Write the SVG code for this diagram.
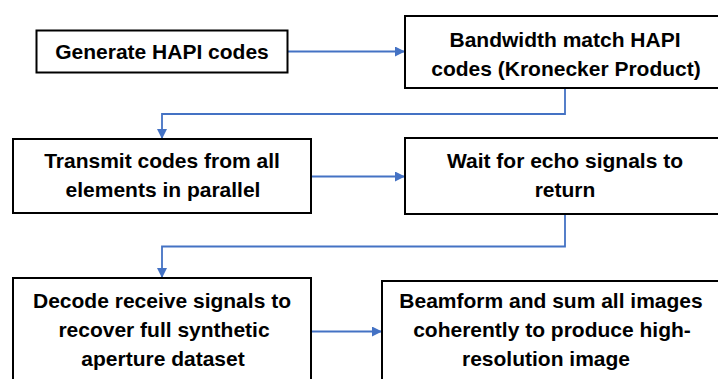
<svg xmlns="http://www.w3.org/2000/svg" width="718" height="379" viewBox="0 0 718 379">
  <style>
    .box { fill: #ffffff; stroke: #000000; stroke-width: 2; }
    .lbl { font-family: "Liberation Sans", Arial, sans-serif; font-weight: bold; font-size: 21px; fill: #000000; text-anchor: middle; }
    .conn { fill: none; stroke: #4472C4; stroke-width: 1.8; marker-end: url(#arrow); }
  </style>
  <defs>
    <marker id="arrow" markerUnits="userSpaceOnUse" markerWidth="11" markerHeight="10" refX="10" refY="5" orient="auto">
      <path d="M0,0 L10,5 L0,10 Z" fill="#4472C4"/>
    </marker>
  </defs>
  <rect width="718" height="379" fill="#ffffff"/>

  <g id="connectors">
    <path class="conn" d="M287,51.5 H405"/>
    <path class="conn" d="M565,88 V114 H162 V139"/>
    <path class="conn" d="M311,176.5 H405"/>
    <path class="conn" d="M565,214 V246.5 H162 V278"/>
    <path class="conn" d="M311,331.5 H382"/>
  </g>

  <g id="node-generate">
    <rect class="box" x="36.5" y="30.5" width="251" height="42"/>
    <text class="lbl" x="162" y="58.5">Generate HAPI codes</text>
  </g>

  <g id="node-bandwidth">
    <rect class="box" x="405" y="16" width="330" height="72"/>
    <text class="lbl" x="565" y="47">Bandwidth match HAPI</text>
    <text class="lbl" x="566" y="76">codes (Kronecker Product)</text>
  </g>

  <g id="node-transmit">
    <rect class="box" x="13" y="139" width="298" height="74"/>
    <text class="lbl" x="162" y="168">Transmit codes from all</text>
    <text class="lbl" x="163" y="197">elements in parallel</text>
  </g>

  <g id="node-wait">
    <rect class="box" x="405" y="138" width="330" height="76"/>
    <text class="lbl" x="565" y="168">Wait for echo signals to</text>
    <text class="lbl" x="565" y="197">return</text>
  </g>

  <g id="node-decode">
    <rect class="box" x="13" y="278" width="298" height="120"/>
    <text class="lbl" x="162" y="308">Decode receive signals to</text>
    <text class="lbl" x="164" y="337">recover full synthetic</text>
    <text class="lbl" x="163" y="366">aperture dataset</text>
  </g>

  <g id="node-beamform">
    <rect class="box" x="382" y="281" width="350" height="120"/>
    <text class="lbl" x="551" y="308">Beamform and sum all images</text>
    <text class="lbl" x="552" y="337">coherently to produce high-</text>
    <text class="lbl" x="546" y="366">resolution image</text>
  </g>
</svg>
